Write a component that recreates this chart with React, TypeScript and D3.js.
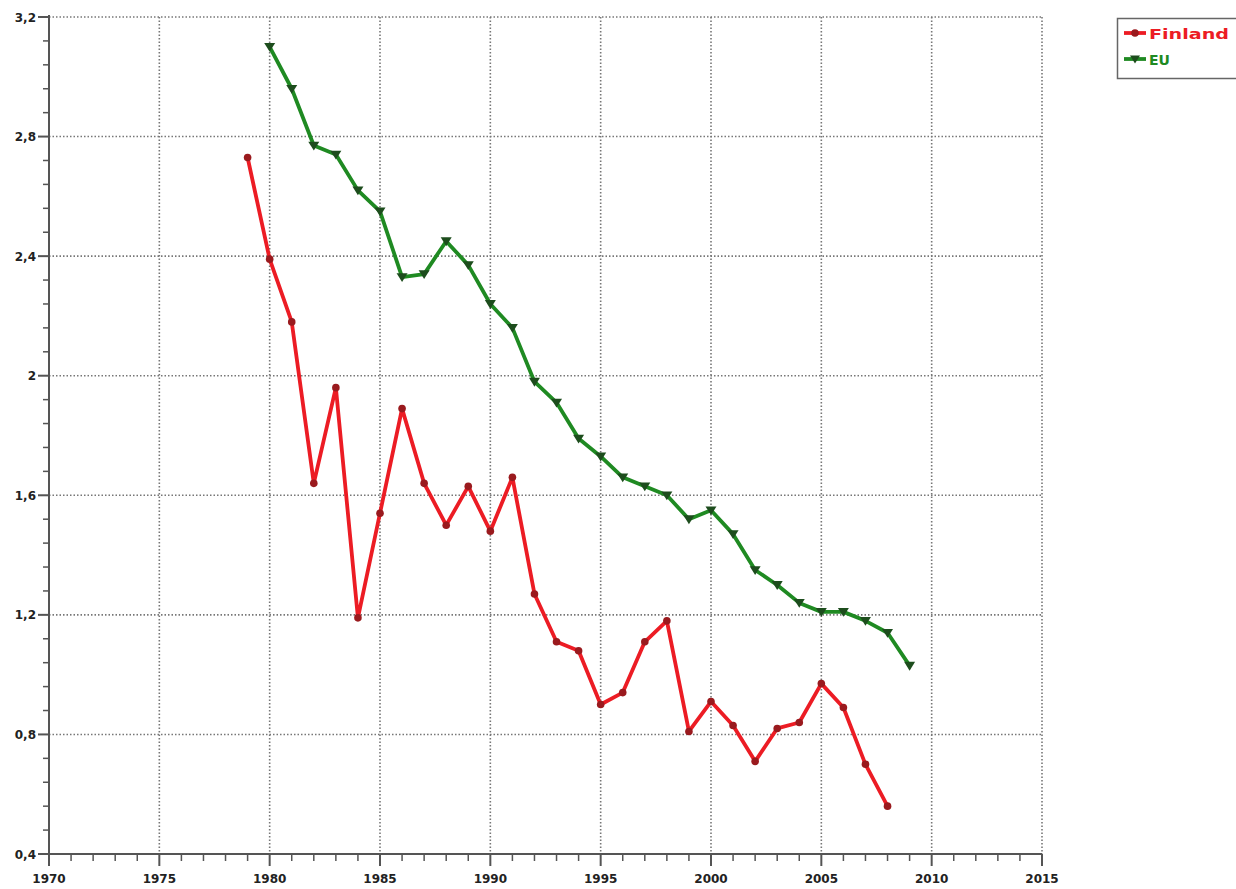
import React from "react";
import * as d3 from "d3";

const finlandYears = [1979,1980,1981,1982,1983,1984,1985,1986,1987,1988,1989,1990,1991,1992,1993,1994,1995,1996,1997,1998,1999,2000,2001,2002,2003,2004,2005,2006,2007,2008];
const finlandValues = [2.73,2.39,2.18,1.64,1.96,1.19,1.54,1.89,1.64,1.50,1.63,1.48,1.66,1.27,1.11,1.08,0.90,0.94,1.11,1.18,0.81,0.91,0.83,0.71,0.82,0.84,0.97,0.89,0.70,0.56];
const euYears = [1980,1981,1982,1983,1984,1985,1986,1987,1988,1989,1990,1991,1992,1993,1994,1995,1996,1997,1998,1999,2000,2001,2002,2003,2004,2005,2006,2007,2008,2009];
const euValues = [3.10,2.96,2.77,2.74,2.62,2.55,2.33,2.34,2.45,2.37,2.24,2.16,1.98,1.91,1.79,1.73,1.66,1.63,1.60,1.52,1.55,1.47,1.35,1.30,1.24,1.21,1.21,1.18,1.14,1.03];
const yTicks = [0.4,0.8,1.2,1.6,2,2.4,2.8,3.2];
const yTickLabels = ["0,4","0,8","1,2","1,6","2","2,4","2,8","3,2"];
const xTicks = [1970,1975,1980,1985,1990,1995,2000,2005,2010,2015];

const RED = "#ec1c24";
const RED_DARK = "#9a1a1e";
const GREEN = "#1f8a22";
const GREEN_DARK = "#1d4d1d";

export default function App() {
  const x = d3.scaleLinear().domain([1970, 2015]).range([49, 1042]);
  const y = d3.scaleLinear().domain([0.4, 3.2]).range([854, 17]);
  const line = d3.line<[number, number]>().x(d => x(d[0])).y(d => y(d[1]));
  const fin: [number, number][] = finlandYears.map((yr, i) => [yr, finlandValues[i]]);
  const eu: [number, number][] = euYears.map((yr, i) => [yr, euValues[i]]);
  const minorYs: number[] = [];
  for (let i = 0; i < 7; i++) for (let j = 1; j < 5; j++) minorYs.push(0.4 + i * 0.4 + j * 0.08);
  const minorXs = d3.range(1970, 2016).filter(v => v % 5 !== 0);
  const tri = (cx: number, cy: number, s = 5.5) => `M${cx - s},${cy - s * 0.7}L${cx + s},${cy - s * 0.7}L${cx},${cy + s * 0.9}Z`;
  const font = "'DejaVu Sans', Verdana, sans-serif";
  return (
    <svg width={1236} height={889} style={{ position: "absolute", left: 0, top: 0, background: "#fff" }}>
      {/* grid */}
      <g stroke="#777" strokeWidth={1.6} strokeDasharray="1.5,2" fill="none">
        {yTicks.slice(1).map(v => <line key={"gy" + v} x1={49} x2={1042} y1={y(v)} y2={y(v)} />)}
        {xTicks.slice(1).map(v => <line key={"gx" + v} x1={x(v)} x2={x(v)} y1={17} y2={854} />)}
      </g>
      {/* axes */}
      <g stroke="#555" strokeWidth={2}>
        <line x1={49} x2={49} y1={15} y2={866} />
        <line x1={38} x2={1042} y1={854} y2={854} />
        {yTicks.map(v => <line key={"ty" + v} x1={38} x2={49} y1={y(v)} y2={y(v)} />)}
        {minorYs.map((v, i) => <line key={"my" + i} x1={43} x2={49} y1={y(v)} y2={y(v)} strokeWidth={1.5} />)}
        {xTicks.map(v => <line key={"tx" + v} x1={x(v)} x2={x(v)} y1={854} y2={866} />)}
        {minorXs.map(v => <line key={"mx" + v} x1={x(v)} x2={x(v)} y1={854} y2={861} strokeWidth={1.5} />)}
      </g>
      <g fontFamily={font} fontWeight="bold" fontSize={12} fill="#222">
        {yTicks.map((v, i) => <text key={"ly" + v} x={36} y={y(v) + 4.5} textAnchor="end">{yTickLabels[i]}</text>)}
        {xTicks.map(v => <text key={"lx" + v} x={x(v)} y={883} textAnchor="middle">{v}</text>)}
      </g>
      {/* EU */}
      <path d={line(eu) || ""} fill="none" stroke={GREEN} strokeWidth={3.8} strokeLinejoin="round" />
      {eu.map((d, i) => <path key={"eu" + i} d={tri(x(d[0]), y(d[1]))} fill={GREEN_DARK} />)}
      {/* Finland */}
      <path d={line(fin) || ""} fill="none" stroke={RED} strokeWidth={3.8} strokeLinejoin="round" />
      {fin.map((d, i) => <circle key={"fi" + i} cx={x(d[0])} cy={y(d[1])} r={3.8} fill={RED_DARK} />)}
      {/* legend */}
      <rect x={1117.5} y={18.5} width={130} height={60} fill="#fff" stroke="#666" strokeWidth={1.5} />
      <line x1={1124} x2={1146} y1={33} y2={33} stroke={RED} strokeWidth={3.8} />
      <circle cx={1135} cy={33} r={3.8} fill={RED_DARK} />
      <text x={1149} y={38.5} fontFamily={font} fontWeight="bold" fontSize={14} fill={RED} textLength={80} lengthAdjust="spacingAndGlyphs">Finland</text>
      <line x1={1124} x2={1146} y1={59} y2={59} stroke={GREEN} strokeWidth={3.8} />
      <path d={tri(1135, 59, 5)} fill={GREEN_DARK} />
      <text x={1149} y={64.5} fontFamily={font} fontWeight="bold" fontSize={14} fill={GREEN} textLength={21} lengthAdjust="spacingAndGlyphs">EU</text>
    </svg>
  );
}
